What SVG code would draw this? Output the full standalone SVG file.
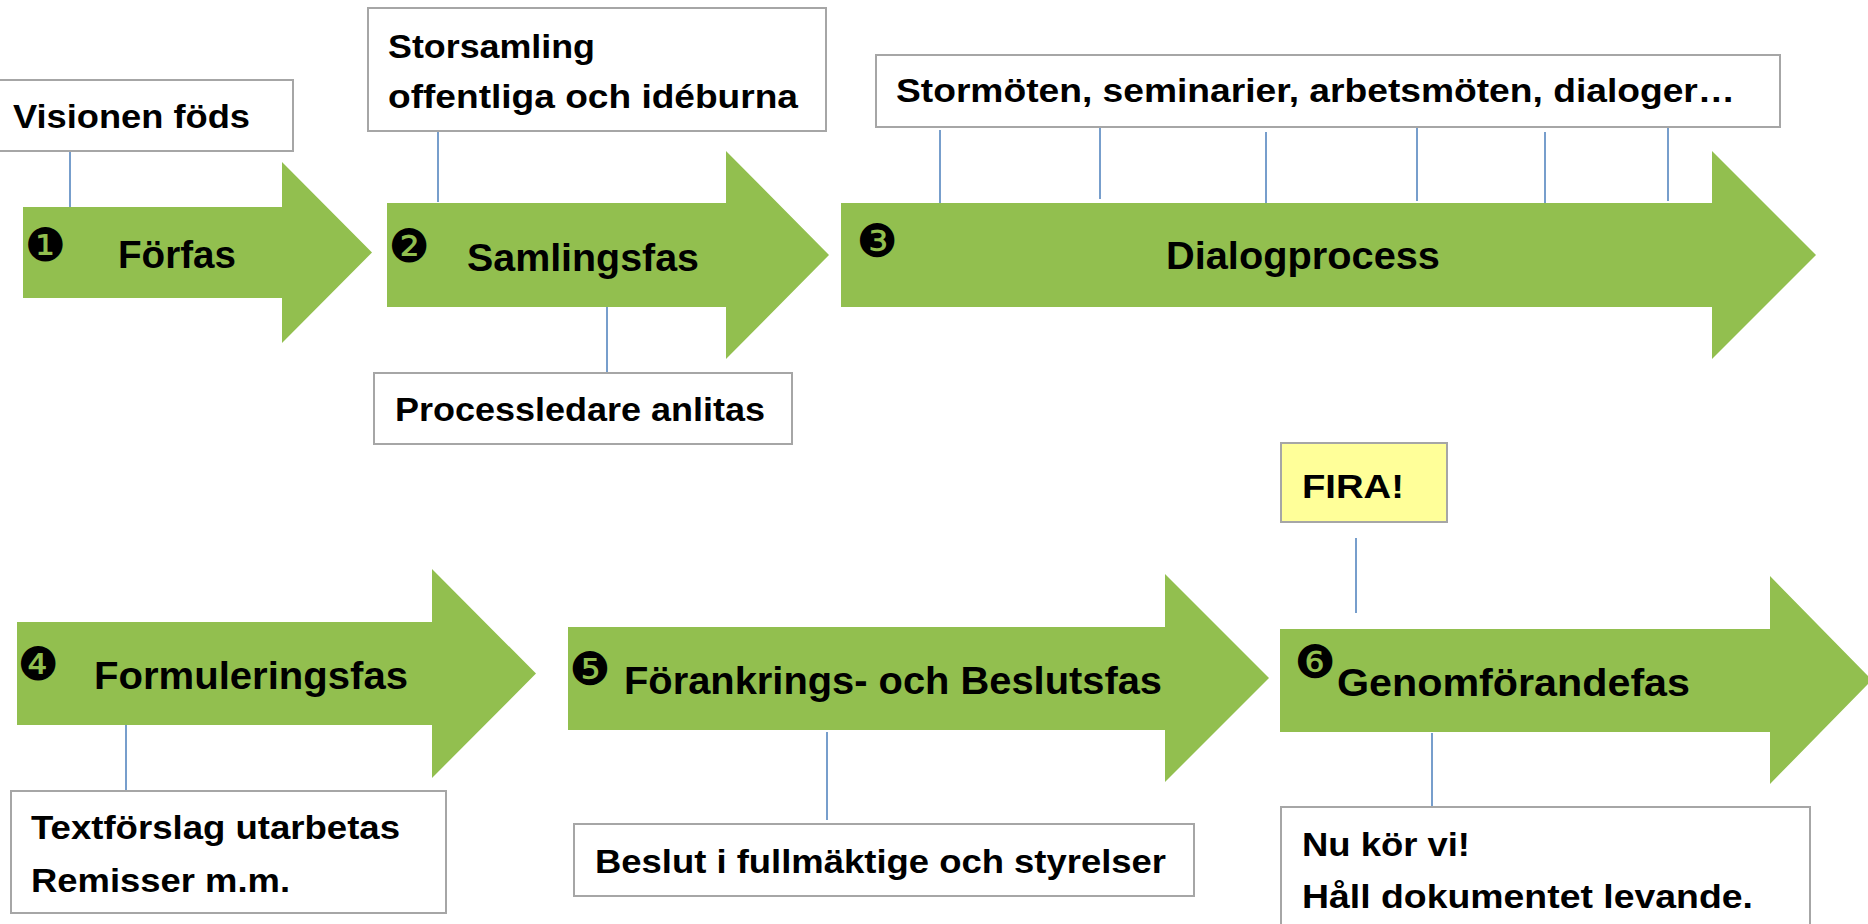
<svg xmlns="http://www.w3.org/2000/svg" width="1868" height="924" viewBox="0 0 1868 924">
<style>
.arrow{fill:#92bf4f}
.box{fill:#ffffff;stroke:#a6a6a6;stroke-width:2}
.fira{fill:#ffff99;stroke:#a6a6a6;stroke-width:2}
.t{font-family:"Liberation Sans",Arial,sans-serif;font-weight:bold;font-size:34px;fill:#000}
.p{font-family:"Liberation Sans",Arial,sans-serif;font-weight:bold;font-size:38px;fill:#000}
.n{font-family:"DejaVu Sans",sans-serif;font-size:46px;fill:#000;text-anchor:middle}
.c line{stroke:#4a7ebb;stroke-width:1.5}
</style>
<rect width="1868" height="924" fill="#ffffff"/>
<g id="connectors" class="c">
<line x1="70" y1="151" x2="70" y2="207"/>
<line x1="438" y1="128" x2="438" y2="202"/>
<line x1="607" y1="302" x2="607" y2="375"/>
<line x1="940" y1="130" x2="940" y2="203"/>
<line x1="1100" y1="125" x2="1100" y2="199"/>
<line x1="1266" y1="132" x2="1266" y2="205"/>
<line x1="1417" y1="127" x2="1417" y2="201"/>
<line x1="1545" y1="132" x2="1545" y2="205"/>
<line x1="1668" y1="127" x2="1668" y2="201"/>
<line x1="126" y1="725" x2="126" y2="790"/>
<line x1="827" y1="732" x2="827" y2="820"/>
<line x1="1356" y1="538" x2="1356" y2="613"/>
<line x1="1432" y1="733" x2="1432" y2="806"/>
</g>
<g id="phase1">
<polygon class="arrow" points="23,207 282,207 282,162 372,252.5 282,343 282,298 23,298"/>
<text class="n" x="45" y="261">❶</text>
<text class="p" x="118" y="268" textLength="118" lengthAdjust="spacingAndGlyphs">Förfas</text>
</g>
<g id="phase2">
<polygon class="arrow" points="387,203 726,203 726,151 829,255 726,359 726,307 387,307"/>
<text class="n" x="409" y="262">❷</text>
<text class="p" x="467" y="271" textLength="232" lengthAdjust="spacingAndGlyphs">Samlingsfas</text>
</g>
<g id="phase3">
<polygon class="arrow" points="841,203 1712,203 1712,151 1816,255 1712,359 1712,307 841,307"/>
<text class="n" x="877" y="257">❸</text>
<text class="p" x="1166" y="269" textLength="274" lengthAdjust="spacingAndGlyphs">Dialogprocess</text>
</g>
<g id="phase4">
<polygon class="arrow" points="17,622 432,622 432,569 536,673.5 432,778 432,725 17,725"/>
<text class="n" x="38" y="680">❹</text>
<text class="p" x="94" y="689" textLength="314" lengthAdjust="spacingAndGlyphs">Formuleringsfas</text>
</g>
<g id="phase5">
<polygon class="arrow" points="568,627 1165,627 1165,574 1269,678 1165,782 1165,730 568,730"/>
<text class="n" x="590" y="685">❺</text>
<text class="p" x="624" y="694" textLength="538" lengthAdjust="spacingAndGlyphs">Förankrings- och Beslutsfas</text>
</g>
<g id="phase6">
<polygon class="arrow" points="1280,629 1770,629 1770,576 1872,680 1770,784 1770,732 1280,732"/>
<text class="n" x="1315" y="678">❻</text>
<text class="p" x="1337" y="696" textLength="353" lengthAdjust="spacingAndGlyphs">Genomförandefas</text>
</g>
<g id="note-visionen">
<rect class="box" x="-2" y="80" width="295" height="71"/>
<text class="t" x="13" y="128" textLength="237" lengthAdjust="spacingAndGlyphs">Visionen föds</text>
</g>
<g id="note-storsamling">
<rect class="box" x="368" y="8" width="458" height="123"/>
<text class="t" x="388" y="58" textLength="207" lengthAdjust="spacingAndGlyphs">Storsamling</text>
<text class="t" x="388" y="108" textLength="410" lengthAdjust="spacingAndGlyphs">offentliga och idéburna</text>
</g>
<g id="note-processledare">
<rect class="box" x="374" y="373" width="418" height="71"/>
<text class="t" x="395" y="421" textLength="370" lengthAdjust="spacingAndGlyphs">Processledare anlitas</text>
</g>
<g id="note-stormoten">
<rect class="box" x="876" y="55" width="904" height="72"/>
<text class="t" x="896" y="102" textLength="839" lengthAdjust="spacingAndGlyphs">Stormöten, seminarier, arbetsmöten, dialoger…</text>
</g>
<g id="note-textforslag">
<rect class="box" x="11" y="791" width="435" height="122"/>
<text class="t" x="31" y="839" textLength="369" lengthAdjust="spacingAndGlyphs">Textförslag utarbetas</text>
<text class="t" x="31" y="892" textLength="259" lengthAdjust="spacingAndGlyphs">Remisser m.m.</text>
</g>
<g id="note-beslut">
<rect class="box" x="574" y="824" width="620" height="72"/>
<text class="t" x="595" y="873" textLength="571" lengthAdjust="spacingAndGlyphs">Beslut i fullmäktige och styrelser</text>
</g>
<g id="note-fira">
<rect class="fira" x="1281" y="443" width="166" height="79"/>
<text class="t" x="1302" y="498" textLength="102" lengthAdjust="spacingAndGlyphs">FIRA!</text>
</g>
<g id="note-nukorvi">
<rect class="box" x="1281" y="807" width="529" height="130"/>
<text class="t" x="1302" y="856" textLength="168" lengthAdjust="spacingAndGlyphs">Nu kör vi!</text>
<text class="t" x="1302" y="908" textLength="451" lengthAdjust="spacingAndGlyphs">Håll dokumentet levande.</text>
</g>
</svg>
